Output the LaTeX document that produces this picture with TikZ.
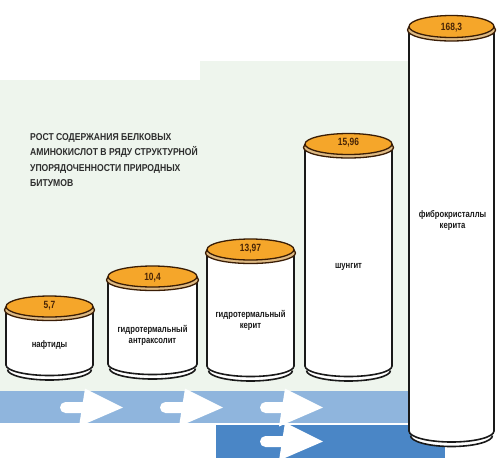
\documentclass[tikz,border=0pt]{standalone}
\usepackage{fontspec}
\setmainfont{Liberation Sans}
\newfontfamily\titlefont[FakeStretch=0.86]{Liberation Sans}
\newfontfamily\labfont[FakeStretch=0.8]{Liberation Sans}
\definecolor{bggreen}{RGB}{238,245,237}
\definecolor{bandlight}{RGB}{143,181,221}
\definecolor{banddark}{RGB}{74,134,198}
\definecolor{lidorange}{RGB}{245,166,42}
\definecolor{lidtan}{RGB}{222,186,132}
\definecolor{valbrown}{RGB}{72,36,6}
\definecolor{titlegray}{RGB}{45,45,45}
\tikzset{
  cylline/.style={draw=black!90, line width=1.6pt},
  lidline/.style={draw=valbrown!80!black, line width=1.3pt},
  valtext/.style={font=\labfont\bfseries\fontsize{10.5}{12}\selectfont, text=valbrown, inner sep=0pt},
  labtext/.style={font=\labfont\bfseries\fontsize{9.6}{11}\selectfont, text=black!90, align=center, inner sep=0pt},
  titletext/.style={font=\titlefont\bfseries\fontsize{10}{15}\selectfont, text=titlegray, anchor=base west, inner sep=0pt},
  whitearrow/.style={fill=white}
}
\newcommand{\mycyl}[5]{%
  \draw[cylline, fill=white] ({#1-#2+1.5},{#4+4.5}) arc[start angle=180,end angle=0,x radius={#2-1.5},y radius=#5];
  \draw[cylline, fill=white] ({#1-#2},#3) -- ({#1-#2},#4) arc[start angle=180,end angle=0,x radius=#2,y radius=#5] -- ({#1+#2},#3);
  \draw[lidline, fill=lidtan] (#1,{#3+3.5}) ellipse[x radius={#2+1.5}, y radius=#5];
  \draw[lidline, fill=lidorange] (#1,#3) ellipse[x radius=#2, y radius=#5];
}
\newcommand{\myarrow}[2]{%
  \fill[whitearrow, rounded corners=5.5pt] (#1,{#2-5.5}) rectangle ({#1+28},{#2+5.5});
  \fill[whitearrow] ({#1+25},{#2-19}) -- ({#1+63},#2) -- ({#1+19},{#2+19}) -- cycle;
}
\begin{document}
\begin{tikzpicture}[x=1pt,y=-1pt]
\useasboundingbox (0,0) rectangle (500,461);
\fill[white] (0,0) rectangle (500,461);
% background
\fill[bggreen] (0,80) -- (200,80) -- (200,61) -- (420,61) -- (420,391) -- (0,391) -- cycle;
% bands
\fill[bandlight] (0,391) rectangle (420,423);
\fill[banddark] (216,425) rectangle (445,458);
\myarrow{60}{407.5}
\myarrow{160}{407.5}
\myarrow{260}{407.5}
\myarrow{260}{441.5}
% title
\node[titletext] (t1) at (30,140.6) {РОСТ СОДЕРЖАНИЯ БЕЛКОВЫХ};
\node[titletext] (t2) at (30,155.9) {АМИНОКИСЛОТ В РЯДУ СТРУКТУРНОЙ};
\node[titletext] (t3) at (30,171.2) {УПОРЯДОЧЕННОСТИ ПРИРОДНЫХ};
\node[titletext] (t4) at (30,186.5) {БИТУМОВ};
% cylinders
\mycyl{49.5}{43.5}{306.5}{365}{10.5}
\mycyl{152.5}{44.5}{276.5}{364}{10.5}
\mycyl{250.5}{43.5}{249.5}{366}{10.5}
\mycyl{348.5}{43.5}{144}{366}{10.5}
\mycyl{451.5}{42.5}{26.5}{431}{11}
% values
\node[valtext] (v1) at (49.5,306) {5,7};
\node[valtext] (v2) at (152.5,278) {10,4};
\node[valtext] (v3) at (250.5,249) {13,97};
\node[valtext] (v4) at (348.5,143) {15,96};
\node[valtext] (v5) at (451.5,28) {168,3};
% labels
\node[labtext] (l1) at (49.5,345) {нафтиды};
\node[labtext] (l2) at (152.5,335.5) {гидротермальный\\антраксолит};
\node[labtext] (l3) at (250.5,320) {гидротермальный\\керит};
\node[labtext] (l4) at (348.5,267) {шунгит};
\node[labtext] (l5) at (452.5,220) {фиброкристаллы\\керита};
\end{tikzpicture}
\end{document}
